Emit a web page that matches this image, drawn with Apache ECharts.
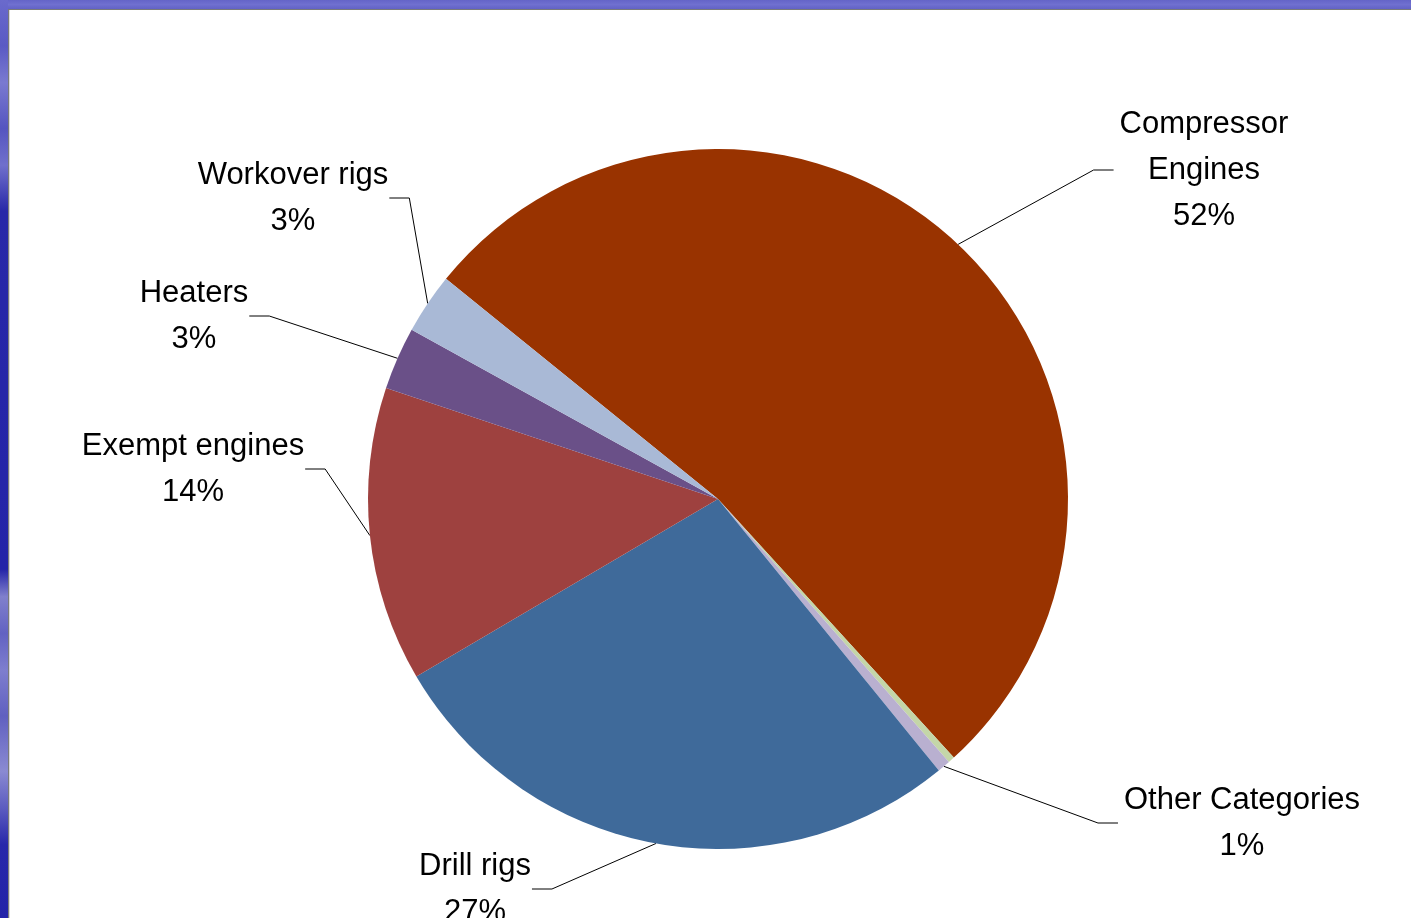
<!DOCTYPE html>
<html>
<head>
<meta charset="utf-8">
<script src="https://cdn.jsdelivr.net/npm/echarts@6/dist/echarts.min.js"></script>
<style>
html,body{margin:0;padding:0;background:#fff;overflow:hidden;}
#c{width:1411px;height:918px;}
</style>
</head>
<body>
<div id="c"></div>
<script>
// ---- data ----
const categories = ['Compressor Engines', 'Other (minor)', 'Other Categories', 'Drill rigs', 'Exempt engines', 'Heaters', 'Workover rigs'];
const values = [52.4, 0.3, 0.6, 27.4, 13.6, 2.9, 2.8];
const hiddenLabels = ['Other (minor)'];
const wrappedNames = { 'Compressor Engines': 'Compressor\nEngines' };

// ---- styles / layout ----
const colors = ['#993300', '#C4D6A8', '#B9B0D0', '#3F6A9A', '#9E413F', '#6A5088', '#A9B9D6'];
const pieCenter = [718, 499];
const pieRadius = 350;
const labelCenters = {
  'Compressor Engines': [1204, 170],
  'Other Categories': [1242, 823],
  'Drill rigs': [475, 889],
  'Exempt engines': [193, 469],
  'Heaters': [194, 316],
  'Workover rigs': [293, 198]
};

const chart = echarts.init(document.getElementById('c'), null, { renderer: 'canvas' });

const data = categories.map((name, i) => ({
  name: name,
  value: values[i],
  itemStyle: { color: colors[i] },
  label: { show: hiddenLabels.indexOf(name) < 0 },
  labelLine: { show: hiddenLabels.indexOf(name) < 0 }
}));

const leftBand = {
  type: 'linear', x: 0, y: 0, x2: 0, y2: 1,
  colorStops: [
    { offset: 0.00, color: '#6a6acc' },
    { offset: 0.05, color: '#5a5ac4' },
    { offset: 0.09, color: '#7a7ad0' },
    { offset: 0.14, color: '#5555c0' },
    { offset: 0.18, color: '#7070cc' },
    { offset: 0.23, color: '#2828a8' },
    { offset: 0.62, color: '#2424a8' },
    { offset: 0.65, color: '#8080cc' },
    { offset: 0.69, color: '#6262c2' },
    { offset: 0.73, color: '#7e7ece' },
    { offset: 0.78, color: '#6060c0' },
    { offset: 0.84, color: '#8a8ad2' },
    { offset: 0.88, color: '#5c5cc0' },
    { offset: 0.92, color: '#2828aa' },
    { offset: 1.00, color: '#2222a8' }
  ]
};
const topBand = {
  type: 'linear', x: 0, y: 0, x2: 0, y2: 1,
  colorStops: [
    { offset: 0, color: '#6464c8' },
    { offset: 0.5, color: '#7070d0' },
    { offset: 1, color: '#6262c6' }
  ]
};

chart.setOption({
  animation: false,
  backgroundColor: '#ffffff',
  graphic: [
    { type: 'rect', shape: { x: 0, y: 0, width: 1411, height: 9 }, style: { fill: topBand } },
    { type: 'rect', shape: { x: 0, y: 0, width: 8, height: 918 }, style: { fill: leftBand } },
    { type: 'rect', shape: { x: 8, y: 9, width: 1403, height: 1 }, style: { fill: '#7a7a7a' } },
    { type: 'rect', shape: { x: 8, y: 9, width: 1, height: 909 }, style: { fill: '#7a7a7a' } },
    { type: 'rect', shape: { x: 9, y: 10, width: 1, height: 908 }, style: { fill: '#d8d8d8' } }
  ],
  series: [{
    type: 'pie',
    center: pieCenter,
    radius: pieRadius,
    startAngle: 141,
    clockwise: true,
    avoidLabelOverlap: false,
    percentPrecision: 0,
    data: data,
    itemStyle: { borderWidth: 0 },
    emphasis: { disabled: true },
    label: {
      show: true,
      position: 'outside',
      formatter: function (p) {
        const n = wrappedNames[p.name] || p.name;
        return n + '\n' + p.percent + '%';
      },
      fontFamily: 'Liberation Sans, Arial, sans-serif',
      fontSize: 31,
      lineHeight: 46,
      color: '#000000',
      align: 'center'
    },
    labelLine: {
      show: true,
      length: 20,
      length2: 20,
      lineStyle: { color: '#000000', width: 1 }
    },
    labelLayout: function (p) {
      const name = categories[p.dataIndex];
      const pos = labelCenters[name];
      if (!pos) return {};
      const w = p.labelRect.width;
      const onRight = pos[0] > pieCenter[0];
      let pts;
      if (p.labelLinePoints && p.labelLinePoints.length) {
        const s = p.labelLinePoints[0];
        const start = [s[0], s[1]];
        if (onRight) {
          const ex = pos[0] - w / 2 - 6;
          pts = [start, [ex - 20, pos[1]], [ex, pos[1]]];
        } else {
          const ex = pos[0] + w / 2 + 1;
          pts = [start, [ex + 20, pos[1]], [ex, pos[1]]];
        }
      }
      const r = { x: pos[0], y: pos[1], align: 'center', verticalAlign: 'middle' };
      if (pts) r.labelLinePoints = pts;
      return r;
    }
  }]
});
</script>
</body>
</html>
